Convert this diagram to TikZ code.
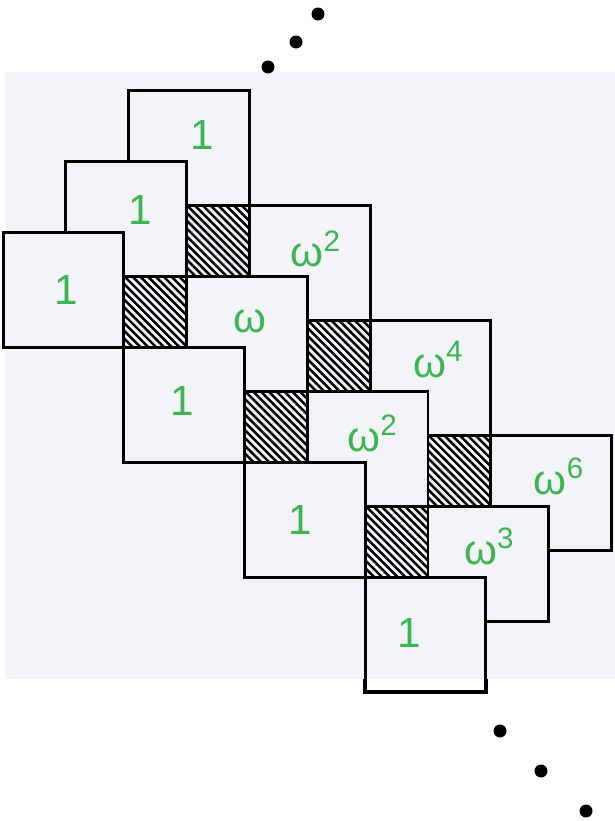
\documentclass[tikz,border=0pt]{standalone}
\usepackage{fontspec}
\setmainfont{Liberation Sans}
\definecolor{paper}{HTML}{F2F4F8}
\definecolor{inkgreen}{RGB}{60,180,80}
\tikzset{
  tile/.style={draw, line width=1.7pt, fill=paper, inner sep=0pt, outer sep=0pt,
    minimum width=2.414cm, minimum height=2.298cm},
  hatchline/.style={line width=1.4pt},
  power/.style={text=inkgreen, font=\fontsize{24}{24}\selectfont, inner sep=0pt},
  dot/.style={fill=black}
}
\begin{document}
\begin{tikzpicture}[x={(2.414cm,-2.298cm)}, y={(-1.255cm,-1.418cm)}]
  \useasboundingbox (-3.78cm,2.96cm) rectangle (8.52cm,-13.46cm);
  \fill[paper] (-3.68cm,1.52cm) rectangle (8.52cm,-10.62cm);

  % tiles, back to front along each diagonal
  \foreach \i in {0,...,3}
    \foreach \j in {0,1,2}
      \node[tile] (s\i\j) at (\i,\j) {};

  % hatched holes between four tiles
  \foreach \i [evaluate=\i as \ii using int(\i+1)] in {0,1,2} {
    \foreach \j [evaluate=\j as \jj using int(\j+1)] in {0,1} {
      \coordinate (h\i\j) at (s\i\j.south -| s\i\jj.east);
      \begin{scope}
        \clip (h\i\j) rectangle (s\ii\jj.north -| s\ii\j.west);
        \foreach \k in {0,...,19}
          \draw[hatchline] ([xshift=\k*0.156cm-1.55cm]h\i\j) -- ++(1.7cm,-1.7cm);
      \end{scope}
    }
  }

  \foreach \i/\j/\txt/\dx/\dy in {0/0/1/0.26/0.26, 0/1/1/0.28/0.18, 0/2/1/0.06/0,
      1/0/{ω\textsuperscript{2}}/0.12/0.28, 1/1/ω/0.06/0.24, 1/2/1/-0.04/0.08,
      2/0/{ω\textsuperscript{4}}/0.16/0.36, 2/1/{ω\textsuperscript{2}}/0.1/0.3, 2/2/1/-0.1/0,
      3/0/{ω\textsuperscript{6}}/0.16/0.32, 3/1/{ω\textsuperscript{3}}/0.02/0.34, 3/2/1/-0.32/0.04}
    \node[power] (p\i\j) at ([shift={(\dx cm,\dy cm)}]s\i\j) {\txt};

  % last tile runs off the sheet
  \coordinate (cut) at (0cm,-10.62cm);
  \fill[white] (s32.south west) rectangle (s32.east |- cut);
  \draw[line width=2.2pt] (s32.west |- cut) -- (s32.south west) -- (s32.south east) -- (s32.east |- cut);

  \foreach \p/\q in {1.58/1.62, 2.14/2.12, 2.58/2.68, 6.22/-11.66, 7.04/-12.46, 7.94/-13.26}
    \fill[dot] (\p cm,\q cm) circle (0.13cm);
\end{tikzpicture}
\end{document}
